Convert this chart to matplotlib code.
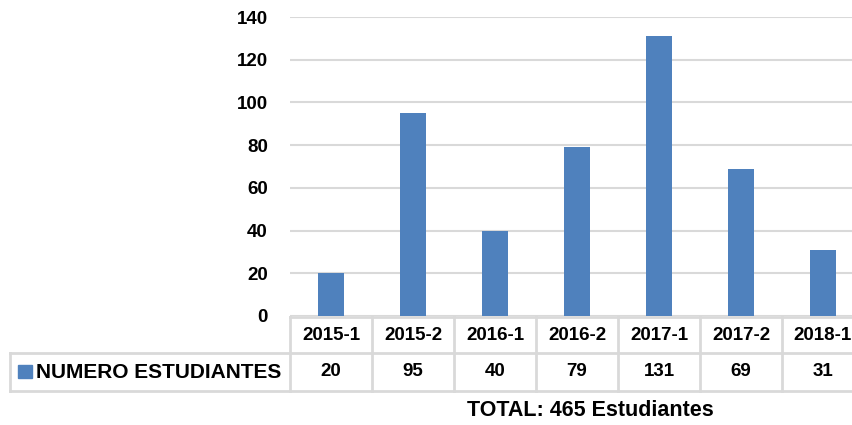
import matplotlib.pyplot as plt
import matplotlib.transforms as mtransforms

plt.rcParams['font.family'] = ['Liberation Sans', 'DejaVu Sans']

periodos = ["2015-1", "2015-2", "2016-1", "2016-2", "2017-1", "2017-2", "2018-1"]
estudiantes = [20, 95, 40, 79, 131, 69, 31]
serie = "NUMERO ESTUDIANTES"
total_texto = "TOTAL: 465 Estudiantes"
y_ticks = [0, 20, 40, 60, 80, 100, 120, 140]

W, H = 853, 425
azul = "#4f81bd"
gris = "#d9d9d9"
fs = 13.5

fig = plt.figure(figsize=(W / 100, H / 100), dpi=100)

# plot area goes past the right edge, like the cropped original
x0, x1 = 290, 290 + 7 * 82
y_top, y_zero = 17, 316
ax = fig.add_axes([x0 / W, 1 - y_zero / H, (x1 - x0) / W, (y_zero - y_top) / H])

x = list(range(len(periodos)))
ax.bar(x, estudiantes, width=0.32, color=azul, zorder=3)
ax.set_xlim(-0.5, len(periodos) - 0.5)
ax.set_ylim(0, 140)
ax.set_yticks(y_ticks)
ax.set_yticklabels([str(v) for v in y_ticks], fontsize=fs, fontweight='bold')
ax.set_xticks([])
ax.tick_params(axis='y', length=0, pad=16)
ax.grid(axis='y', color=gris, linewidth=1.5, zorder=0)
for s in ax.spines.values():
    s.set_visible(False)

# data table under the chart
tr = mtransforms.blended_transform_factory(ax.transData, fig.transFigure)
def fy(py):
    return 1 - py / H

r0, r1, r2 = 317, 353, 391
right = len(periodos) - 0.5
ax.plot([-0.5, right], [fy(r0)] * 2, transform=tr, color=gris, lw=2, clip_on=False)
for r in (r1, r2):
    ax.plot([-0.5 - 280 / 82, right], [fy(r)] * 2, transform=tr, color=gris, lw=2, clip_on=False)
ax.plot([-0.5 - 280 / 82] * 2, [fy(r1), fy(r2)], transform=tr, color=gris, lw=2, clip_on=False)
for i in range(len(periodos) + 1):
    ax.plot([i - 0.5] * 2, [fy(r0), fy(r2)], transform=tr, color=gris, lw=2, clip_on=False)

for i, (p, v) in enumerate(zip(periodos, estudiantes)):
    ax.text(i, fy((r0 + r1) / 2), p, transform=tr, ha='center', va='center',
            fontsize=fs, fontweight='bold')
    ax.text(i, fy((r1 + r2) / 2), str(v), transform=tr, ha='center', va='center',
            fontsize=fs, fontweight='bold')

fig.patches.append(plt.Rectangle((18 / W, fy(378)), 14 / W, 13 / H, color=azul,
                                 transform=fig.transFigure, figure=fig))
fig.text(36 / W, fy((r1 + r2) / 2), serie, ha='left', va='center',
         fontsize=15, fontweight='bold')
fig.text(590 / W, fy(410), total_texto, ha='center', va='center',
         fontsize=15.5, fontweight='bold')

fig.savefig("out.png", dpi=100)
